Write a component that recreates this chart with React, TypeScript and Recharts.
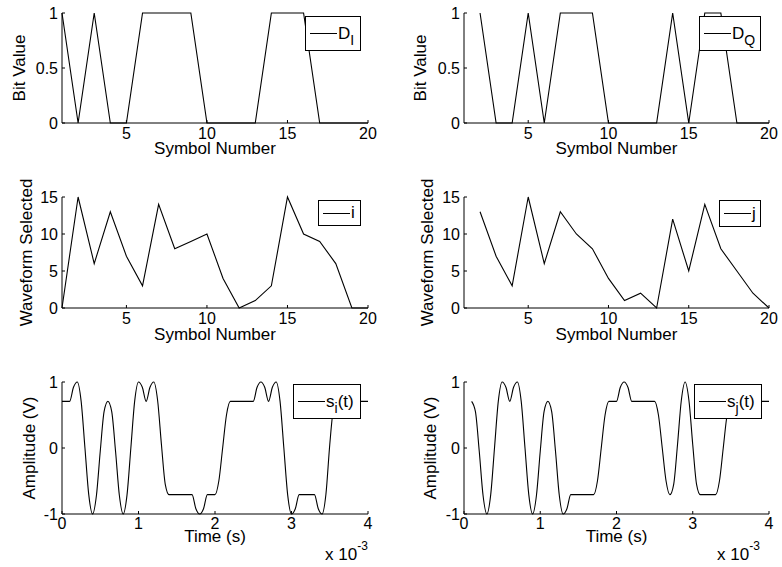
import { LineChart, Line, XAxis, YAxis, Legend } from "recharts";

// symbol index for the bit and waveform plots
const symbols = [1, 2, 3, 4, 5, 6, 7, 8, 9, 10, 11, 12, 13, 14, 15, 16, 17, 18, 19, 20];

// in-phase / quadrature bit streams (Q starts at symbol 2)
const bitsI = [1, 0, 1, 0, 0, 1, 1, 1, 1, 0, 0, 0, 0, 1, 1, 1, 0, 0, 0, 0];
const bitsQ = [null, 1, 0, 0, 1, 0, 1, 1, 1, 0, 0, 0, 0, 1, 0, 1, 1, 0, 0, 0];

// selected waveform index per symbol
const waveI = [0, 15, 6, 13, 7, 3, 14, 8, 9, 10, 4, 0, 1, 3, 15, 10, 9, 6, 0, 0];
const waveJ = [null, 13, 7, 3, 15, 6, 13, 10, 8, 4, 1, 2, 0, 12, 5, 14, 8, 5, 2, 0];

// time axis in units of 1e-3 s
const timeMs = [
  0, 0.05, 0.1, 0.15, 0.2, 0.25, 0.3, 0.35, 0.4, 0.45,
  0.5, 0.55, 0.6, 0.65, 0.7, 0.75, 0.8, 0.85, 0.9, 0.95,
  1, 1.05, 1.1, 1.15, 1.2, 1.25, 1.3, 1.35, 1.4, 1.45,
  1.5, 1.55, 1.6, 1.65, 1.7, 1.75, 1.8, 1.85, 1.9, 1.95,
  2, 2.05, 2.1, 2.15, 2.2, 2.25, 2.3, 2.35, 2.4, 2.45,
  2.5, 2.55, 2.6, 2.65, 2.7, 2.75, 2.8, 2.85, 2.9, 2.95,
  3, 3.05, 3.1, 3.15, 3.2, 3.25, 3.3, 3.35, 3.4, 3.45,
  3.5, 3.55, 3.6, 3.65, 3.7, 3.75, 3.8, 3.85, 3.9, 3.95,
  4,
];

// transmitted signals s_i(t), s_j(t)
const sigI = [
  0.707, 0.707, 0.707, 0.92, 1, 0.71, 0, -0.71, -1, -0.72,
  -0.05, 0.55, 0.707, 0.55, -0.05, -0.72, -1, -0.71, 0, 0.71,
  1, 0.92, 0.707, 0.92, 1, 0.72, 0.05, -0.55, -0.707, -0.707,
  -0.707, -0.707, -0.707, -0.707, -0.707, -0.92, -1, -0.92, -0.707, -0.707,
  -0.707, -0.5, 0, 0.5, 0.707, 0.707, 0.707, 0.707, 0.707, 0.707,
  0.707, 0.92, 1, 0.92, 0.707, 0.92, 1, 0.71, 0, -0.71,
  -1, -0.92, -0.707, -0.707, -0.707, -0.707, -0.707, -0.92, -1, -0.7,
  0.05, 0.6, 0.707, 0.707, 0.707, 0.707, 0.707, 0.707, 0.707, 0.707,
  0.707,
];
const sigJ = [
  null, null, 0.707, 0.55, -0.05, -0.72, -1, -0.71, 0, 0.71,
  1, 0.92, 0.707, 0.92, 1, 0.71, 0, -0.71, -1, -0.72,
  -0.05, 0.55, 0.707, 0.55, -0.05, -0.72, -1, -0.92, -0.707, -0.707,
  -0.707, -0.707, -0.707, -0.707, -0.707, -0.5, 0, 0.5, 0.707, 0.707,
  0.707, 0.92, 1, 0.92, 0.707, 0.707, 0.707, 0.707, 0.707, 0.707,
  0.707, 0.5, 0, -0.5, -0.707, -0.55, 0.05, 0.72, 1, 0.72,
  0.05, -0.55, -0.707, -0.707, -0.707, -0.707, -0.707, -0.5, 0, 0.5,
  0.707, 0.707, 0.707, 0.707, 0.707, 0.707, 0.707, 0.707, 0.707, 0.707,
  0.707,
];

const symbolTicks = [5, 10, 15, 20];
const bitTicks = [0, 0.5, 1];
const waveTicks = [0, 5, 10, 15];
const timeTicks = [0, 1, 2, 3, 4];
const ampTicks = [-1, 0, 1];

const FONT = '"Liberation Sans", Arial, Helvetica, sans-serif';
const MT = 40;
const XH = 50;
const MR = 20;

type LegendSpec = { x: number; y: number; w: number; h: number; main: string; sub?: string; tail?: string };

type PanelProps = {
  colX: number;
  plotX: number;
  plotY: number;
  plotW: number;
  plotH: number;
  xs: number[];
  ys: (number | null)[];
  xDomain: [number, number];
  xTicks: number[];
  yDomain: [number, number];
  yTicks: number[];
  xLabel: string;
  yLabel: string;
  yLabelX: number;
  xLabelBase: number;
  tickGap: number;
  curve: "linear" | "monotone";
  legend: LegendSpec;
  exponentX?: number;
};

function LegendBox({ spec }: { spec: LegendSpec }) {
  return (
    <div
      style={{
        width: spec.w,
        height: spec.h,
        boxSizing: "border-box",
        border: "1px solid #000",
        background: "#fff",
        display: "flex",
        alignItems: "center",
        fontFamily: FONT,
        fontSize: 17,
        color: "#000",
        whiteSpace: "nowrap",
      }}
    >
      <span style={{ display: "inline-block", width: 27, height: 1, background: "#000", marginLeft: 4, marginRight: 1 }} />
      <span>
        {spec.main}
        {spec.sub && <span style={{ fontSize: 14, position: "relative", top: 6 }}>{spec.sub}</span>}
        {spec.tail}
      </span>
    </div>
  );
}

function Panel(p: PanelProps) {
  const data = p.xs
    .map((x, i) => ({ x, y: p.ys[i] }))
    .filter((d) => d.y !== null && d.y !== undefined);
  const yw = p.plotX - p.colX;
  const width = yw + p.plotW + MR;
  const height = MT + p.plotH + XH;
  const top = p.plotY - MT;
  const tickStyle = { fontSize: 16, fill: "#000", fontFamily: FONT };
  const axisLine = { stroke: "#000", strokeWidth: 1 };

  return (
    <div style={{ position: "absolute", left: p.colX, top, width, height }}>
      <LineChart width={width} height={height} data={data} margin={{ top: MT, right: MR, bottom: 0, left: 0 }}>
        <XAxis
          dataKey="x"
          type="number"
          domain={p.xDomain}
          ticks={p.xTicks}
          interval={0}
          height={XH}
          tickSize={-3}
          tickMargin={3 + p.tickGap}
          tick={tickStyle}
          axisLine={axisLine}
          tickLine={axisLine}
          label={{
            value: p.xLabel,
            position: "insideBottom",
            offset: XH - (p.xLabelBase - p.plotY - p.plotH),
            fill: "#000",
            fontSize: 17,
            fontFamily: FONT,
          }}
        />
        <XAxis
          xAxisId="top"
          orientation="top"
          dataKey="x"
          type="number"
          domain={p.xDomain}
          ticks={p.xTicks}
          interval={0}
          height={0}
          tickSize={-3}
          tickFormatter={() => ""}
          axisLine={axisLine}
          tickLine={axisLine}
        />
        <YAxis
          type="number"
          domain={p.yDomain}
          ticks={p.yTicks}
          interval={0}
          width={yw}
          tickSize={-3}
          tickMargin={7}
          tick={tickStyle}
          axisLine={axisLine}
          tickLine={axisLine}
          label={{
            value: p.yLabel,
            angle: -90,
            position: "insideLeft",
            offset: p.yLabelX - p.colX,
            fill: "#000",
            fontSize: 17,
            fontFamily: FONT,
            style: { textAnchor: "middle" },
          }}
        />
        <YAxis
          yAxisId="right"
          orientation="right"
          type="number"
          domain={p.yDomain}
          ticks={p.yTicks}
          interval={0}
          width={0}
          tickSize={-3}
          tickFormatter={() => ""}
          axisLine={axisLine}
          tickLine={axisLine}
        />
        <Line
          dataKey="y"
          type={p.curve}
          stroke="#000"
          strokeWidth={1.1}
          dot={false}
          isAnimationActive={false}
        />
        <Legend
          layout="horizontal"
          verticalAlign="middle"
          align="center"
          wrapperStyle={{ left: p.legend.x - p.colX, top: p.legend.y - top, width: p.legend.w, height: p.legend.h }}
          content={() => <LegendBox spec={p.legend} />}
        />
      </LineChart>
      {p.exponentX !== undefined && (
        <div
          style={{
            position: "absolute",
            left: p.exponentX - p.colX,
            top: 560 - 14.4 - top,
            fontFamily: FONT,
            fontSize: 17,
            lineHeight: "17px",
            whiteSpace: "nowrap",
            color: "#000",
          }}
        >
          x 10<span style={{ fontSize: 12, position: "relative", top: -10 }}>-3</span>
        </div>
      )}
    </div>
  );
}

export default function App() {
  return (
    <div style={{ position: "absolute", left: 0, top: 0, width: 782, height: 567, background: "#fff" }}>
      <Panel
        colX={0} plotX={62} plotY={13} plotW={306} plotH={110}
        xs={symbols} ys={bitsI} xDomain={[1, 20]} xTicks={symbolTicks}
        yDomain={[0, 1]} yTicks={bitTicks}
        xLabel="Symbol Number" yLabel="Bit Value" yLabelX={19} xLabelBase={154} tickGap={5}
        curve="linear" legend={{ x: 305, y: 16, w: 56, h: 35, main: "D", sub: "I" }}
      />
      <Panel
        colX={391} plotX={464} plotY={13} plotW={305} plotH={110}
        xs={symbols} ys={bitsQ} xDomain={[1, 20]} xTicks={symbolTicks}
        yDomain={[0, 1]} yTicks={bitTicks}
        xLabel="Symbol Number" yLabel="Bit Value" yLabelX={420} xLabelBase={154} tickGap={5}
        curve="linear" legend={{ x: 699, y: 16, w: 62, h: 35, main: "D", sub: "Q" }}
      />
      <Panel
        colX={0} plotX={62} plotY={197} plotW={306} plotH={111}
        xs={symbols} ys={waveI} xDomain={[1, 20]} xTicks={symbolTicks}
        yDomain={[0, 15]} yTicks={waveTicks}
        xLabel="Symbol Number" yLabel="Waveform Selected" yLabelX={25.5} xLabelBase={340} tickGap={5}
        curve="linear" legend={{ x: 318, y: 200, w: 43, h: 26, main: "i" }}
      />
      <Panel
        colX={391} plotX={464} plotY={197} plotW={305} plotH={111}
        xs={symbols} ys={waveJ} xDomain={[1, 20]} xTicks={symbolTicks}
        yDomain={[0, 15]} yTicks={waveTicks}
        xLabel="Symbol Number" yLabel="Waveform Selected" yLabelX={427} xLabelBase={340} tickGap={5}
        curve="linear" legend={{ x: 719, y: 200, w: 42, h: 27, main: "j" }}
      />
      <Panel
        colX={0} plotX={62} plotY={382} plotW={306} plotH={132}
        xs={timeMs} ys={sigI} xDomain={[0, 4]} xTicks={timeTicks}
        yDomain={[-1, 1]} yTicks={ampTicks}
        xLabel="Time (s)" yLabel="Amplitude (V)" yLabelX={28.5} xLabelBase={542} tickGap={3.5}
        curve="monotone" legend={{ x: 293, y: 384, w: 68, h: 35, main: "s", sub: "i", tail: "(t)" }}
        exponentX={325}
      />
      <Panel
        colX={391} plotX={464} plotY={382} plotW={305} plotH={132}
        xs={timeMs} ys={sigJ} xDomain={[0, 4]} xTicks={timeTicks}
        yDomain={[-1, 1]} yTicks={ampTicks}
        xLabel="Time (s)" yLabel="Amplitude (V)" yLabelX={430} xLabelBase={542} tickGap={3.5}
        curve="monotone" legend={{ x: 694, y: 384, w: 68, h: 35, main: "s", sub: "j", tail: "(t)" }}
        exponentX={717}
      />
    </div>
  );
}
